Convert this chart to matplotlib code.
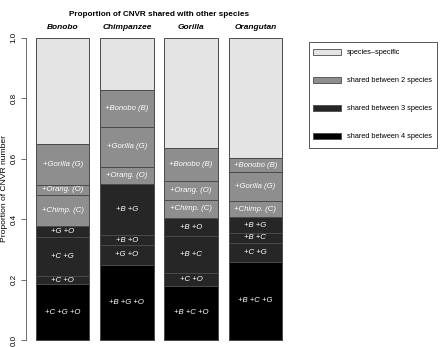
import matplotlib
matplotlib.use("Agg")
import matplotlib.pyplot as plt
from matplotlib.patches import Rectangle

plt.rcParams['font.family'] = ['Liberation Sans', 'DejaVu Sans']

species = ["Bonobo", "Chimpanzee", "Gorilla", "Orangutan"]

# segment categories bottom -> top (4 = shared by 4, 3 = shared by 3, 2 = shared by 2, 1 = specific)
segment_kind = [4, 3, 3, 3, 2, 2, 2, 1]

bonobo_values = [0.185, 0.026, 0.129, 0.036, 0.104, 0.033, 0.135, 0.352]
bonobo_labels = ["+C +G +O", "+C +O", "+C +G", "+G +O", "+Chimp. (C)", "+Orang. (O)", "+Gorilla (G)", ""]

chimp_values = [0.249, 0.065, 0.033, 0.169, 0.057, 0.131, 0.123, 0.173]
chimp_labels = ["+B +G +O", "+G +O", "+B +O", "+B +G", "+Orang. (O)", "+Gorilla (G)", "+Bonobo (B)", ""]

gorilla_values = [0.180, 0.041, 0.123, 0.059, 0.061, 0.060, 0.111, 0.365]
gorilla_labels = ["+B +C +O", "+C +O", "+B +C", "+B +O", "+Chimp. (C)", "+Orang. (O)", "+Bonobo (B)", ""]

orang_values = [0.259, 0.063, 0.033, 0.050, 0.055, 0.094, 0.047, 0.399]
orang_labels = ["+B +C +G", "+C +G", "+B +C", "+B +G", "+Chimp. (C)", "+Gorilla (G)", "+Bonobo (B)", ""]

legend_labels = ["species\u2013specific", "shared between 2 species",
                 "shared between 3 species", "shared between 4 species"]
legend_kinds = [1, 2, 3, 4]

kind_colors = {1: "#e4e4e4", 2: "#8e8e8e", 3: "#262626", 4: "#000000"}
edge = "#4a4a4a"

all_values = [bonobo_values, chimp_values, gorilla_values, orang_values]
all_labels = [bonobo_labels, chimp_labels, gorilla_labels, orang_labels]

W, H = 440, 347
fig = plt.figure(figsize=(4.4, 3.47), dpi=100)

# axes placement in pixel terms
x_left_px, x_right_px = 26.2, 291.8
y0_px, y1_px = 340.0, 37.5
ppu = (y0_px - y1_px)
ybot = -(H - y0_px) / ppu
ytop = 1.04
top_px = y0_px - ytop * ppu
ax = fig.add_axes([x_left_px / W, 0, (x_right_px - x_left_px) / W, 1 - top_px / H])
ax.set_xlim(0.016, 4.984)
ax.set_ylim(ybot, ytop)

xpos = [0.7 + 1.2 * i for i in range(len(species))]

for i, (vals, labs) in enumerate(zip(all_values, all_labels)):
    bottom = 0.0
    for v, lab, k in zip(vals, labs, segment_kind):
        ax.bar(xpos[i], v, width=1.0, bottom=bottom, color=kind_colors[k],
               edgecolor=edge, linewidth=0.7)
        if lab:
            ax.text(xpos[i], bottom + v / 2, lab, ha='center', va='center',
                    color='white', fontsize=5.6, style='italic')
        bottom += v
    ax.text(xpos[i], 1.033, species[i], ha='center', va='center',
            fontsize=6.0, fontweight='bold', style='italic')

for s in ['top', 'right', 'bottom']:
    ax.spines[s].set_visible(False)
ax.spines['left'].set_bounds(0, 1)
ax.spines['left'].set_color('#555555')
ax.spines['left'].set_linewidth(0.6)
ax.set_xticks([])
ax.set_yticks([0, 0.2, 0.4, 0.6, 0.8, 1.0])
ax.set_yticklabels(["0.0", "0.2", "0.4", "0.6", "0.8", "1.0"], rotation=90,
                   va='center', fontsize=5.8)
ax.tick_params(axis='y', length=3.5, width=0.6, color='#555555', pad=2.5)
ax.set_ylabel("Proportion of CNVR number", fontsize=6.1)
ax.yaxis.set_label_coords((8.5 - x_left_px) / (x_right_px - x_left_px),
                          (0.5 - ybot) / (ytop - ybot))

fig.text(159 / W, 1 - 14 / H, "Proportion of CNVR shared with other species",
         ha='center', va='center', fontsize=5.9, fontweight='bold')

# legend drawn in pixel coordinates
lax = fig.add_axes([0, 0, 1, 1], facecolor='none')
lax.set_xlim(0, W)
lax.set_ylim(H, 0)
lax.axis('off')
lax.add_patch(Rectangle((309, 42), 128, 105.7, facecolor='white', edgecolor='#555555', linewidth=0.7))
for j, (lab, k) in enumerate(zip(legend_labels, legend_kinds)):
    yc = 52.3 + 28 * j
    lax.add_patch(Rectangle((313, yc - 3), 28, 6, facecolor=kind_colors[k],
                            edgecolor=edge, linewidth=0.6))
    lax.text(347, yc, lab, ha='left', va='center', fontsize=5.3)

fig.savefig("out.png", dpi=100)
